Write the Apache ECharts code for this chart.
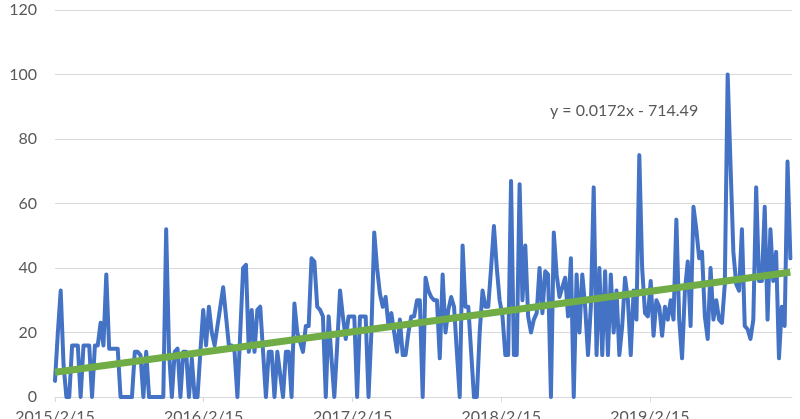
<!DOCTYPE html>
<html>
<head>
<meta charset="utf-8">
<script src="https://cdn.jsdelivr.net/npm/echarts@6/dist/echarts.min.js"></script>
<style>
html,body{margin:0;padding:0;background:#fff;}
#chart{width:800px;height:419px;}
</style>
</head>
<body>
<div id="chart"></div>
<script>
// Weekly series starting at this date
const startDate = '2015/2/15';
const axisEndDate = '2020/1/30';
const weeklyCounts = [
  5, 20, 33, 10, 0, 0, 16, 16, 16, 0,
  16, 16, 16, 0, 16, 16, 23, 16, 38, 15,
  15, 15, 15, 0, 0, 0, 0, 0, 14, 14,
  13, 0, 14, 0, 0, 0, 0, 0, 0, 52,
  14, 0, 14, 15, 0, 14, 14, 0, 12, 0,
  0, 14, 27, 16, 28, 20, 16, 22, 28, 34,
  25, 16, 16, 14, 0, 20, 40, 41, 14, 27,
  14, 27, 28, 14, 0, 14, 14, 0, 14, 7,
  0, 14, 14, 0, 29, 20, 17, 14, 22, 22,
  43, 42, 28, 27, 25, 0, 25, 12, 0, 16,
  33, 25, 18, 25, 25, 25, 0, 25, 25, 25,
  0, 20, 51, 40, 32, 28, 31, 22, 26, 20,
  14, 24, 13, 13, 20, 25, 25, 30, 30, 0,
  37, 33, 31, 30, 30, 12, 38, 20, 27, 31,
  28, 14, 0, 47, 28, 28, 14, 0, 0, 20,
  33, 28, 28, 40, 53, 40, 30, 25, 13, 13,
  67, 13, 13, 66, 30, 47, 25, 20, 24, 26,
  40, 26, 39, 38, 0, 51, 38, 31, 34, 37,
  25, 43, 0, 38, 20, 38, 28, 13, 28, 65,
  13, 40, 13, 39, 13, 38, 20, 33, 13, 22,
  37, 30, 13, 33, 24, 75, 40, 26, 25, 36,
  19, 30, 28, 19, 28, 24, 30, 24, 55, 24,
  12, 33, 42, 22, 59, 52, 43, 45, 25, 18,
  40, 24, 30, 24, 23, 35, 100, 72, 45, 35,
  33, 52, 22, 21, 18, 24, 65, 36, 36, 59,
  24, 52, 36, 45, 12, 28, 22, 73, 43
];
const tickLabels = ['2015/2/15', '2016/2/15', '2017/2/15', '2018/2/15', '2019/2/15'];
const yTicks = [0, 20, 40, 60, 80, 100, 120];
const trendValues = [7.7, 38.7];   // linear trendline at first and last week
const equationText = 'y = 0.0172x - 714.49';

const DAY = 86400000;
const t0 = new Date(startDate).getTime();
const weekDates = weeklyCounts.map((_, i) => t0 + i * 7 * DAY);
const tickTimes = tickLabels.map(s => new Date(s).getTime());
const seriesData = weeklyCounts.map((v, i) => [weekDates[i], v]);
const trendData = [[weekDates[0], trendValues[0]], [weekDates[weekDates.length - 1], trendValues[1]]];

function fmtDate(v) {
  const d = new Date(v);
  return d.getFullYear() + '/' + (d.getMonth() + 1) + '/' + d.getDate();
}

const chart = echarts.init(document.getElementById('chart'), null, {renderer: 'canvas'});
chart.setOption({
  animation: false,
  backgroundColor: '#ffffff',
  textStyle: {fontFamily: 'Lato, "Open Sans", sans-serif'},
  grid: {left: 55, right: 8, top: 10, bottom: 22, containLabel: false, outerBoundsMode: 'none'},
  xAxis: {
    type: 'value',
    min: t0,
    max: new Date(axisEndDate).getTime(),
    axisLine: {show: true, lineStyle: {color: '#d9d9d9', width: 1}},
    axisTick: {show: true, length: 5, customValues: tickTimes, lineStyle: {color: '#d9d9d9'}},
    axisLabel: {
      customValues: tickTimes,
      formatter: v => fmtDate(v),
      color: '#595959', fontSize: 16, margin: 12,
      hideOverlap: false, showMinLabel: true
    },
    splitLine: {show: false}
  },
  yAxis: {
    type: 'value',
    min: yTicks[0], max: yTicks[yTicks.length - 1], interval: 20,
    axisLine: {show: false},
    axisTick: {show: false},
    axisLabel: {color: '#595959', fontSize: 16, margin: 18},
    splitLine: {lineStyle: {color: '#d9d9d9', width: 1}}
  },
  series: [
    {
      type: 'line', data: seriesData, showSymbol: false, symbol: 'none',
      lineStyle: {color: '#4472C4', width: 4, join: 'round', cap: 'round'},
      z: 2
    },
    {
      type: 'line', data: trendData, showSymbol: false, symbol: 'none',
      lineStyle: {color: '#70AD47', width: 7},
      z: 3
    }
  ],
  graphic: [{
    type: 'text', left: 550, top: 103,
    style: {text: equationText, fill: '#595959', fontSize: 16, fontFamily: 'Lato, "Open Sans", sans-serif'}
  }]
});
</script>
</body>
</html>
